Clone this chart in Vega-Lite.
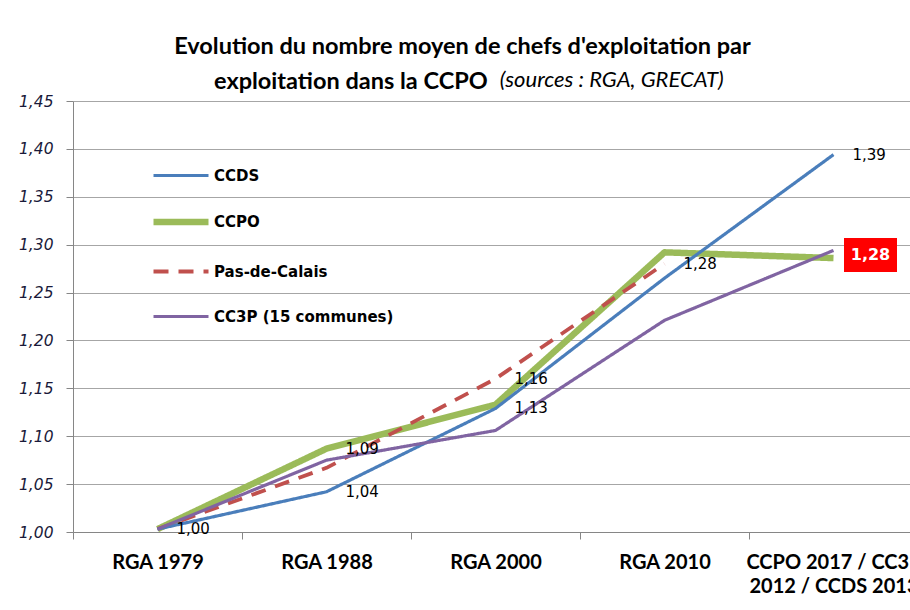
{
  "$schema": "https://vega.github.io/schema/vega-lite/v6.json",
  "width": 845,
  "height": 431,
  "autosize": "none",
  "padding": {"left": 73, "top": 101, "right": -8, "bottom": 78},
  "background": "white",
  "config": {
    "view": {"stroke": null},
    "axis": {"domainColor": "#868686", "tickColor": "#868686", "tickSize": 7, "title": null}
  },
  "title": {
    "text": ["Evolution du nombre moyen de chefs d'exploitation par", "exploitation dans la CCPO\u2003\u2003\u2003\u2003\u2003\u2003\u2003\u2003\u2003\u2003\u2003\u2003\u2002\u200b"],
    "subtitle": "\u200b\u2003\u2003\u2003\u2003\u2003\u2003\u2003\u2003\u2003\u2003\u2003\u2003\u2003\u2003\u2003\u2003\u2003\u2003\u2003\u2002(sources : RGA, GRECAT)",
    "font": "Lato",
    "fontSize": 23.5,
    "fontWeight": "bold",
    "color": "black",
    "subtitleFont": "Lato",
    "subtitleFontSize": 22,
    "subtitleFontStyle": "italic",
    "subtitleFontWeight": "normal",
    "subtitleColor": "black",
    "anchor": "middle",
    "dx": -33,
    "offset": 1,
    "lineHeight": 35,
    "subtitlePadding": -23
  },
  "datasets": {
    "lines": [
      {"series": "CCPO", "period": "RGA 1979", "value": 1.003},
      {"series": "CCPO", "period": "RGA 1988", "value": 1.087},
      {"series": "CCPO", "period": "RGA 2000", "value": 1.133},
      {"series": "CCPO", "period": "RGA 2010", "value": 1.292},
      {"series": "CCPO", "period": "CCPO 2017 / CC3P 2012 / CCDS 2013", "value": 1.286},
      {"series": "Pas-de-Calais", "period": "RGA 1979", "value": 1.003},
      {"series": "Pas-de-Calais", "period": "RGA 1988", "value": 1.067},
      {"series": "Pas-de-Calais", "period": "RGA 2000", "value": 1.16},
      {"series": "Pas-de-Calais", "period": "RGA 2010", "value": 1.28},
      {"series": "CCDS", "period": "RGA 1979", "value": 1.003},
      {"series": "CCDS", "period": "RGA 1988", "value": 1.042},
      {"series": "CCDS", "period": "RGA 2000", "value": 1.129},
      {"series": "CCDS", "period": "RGA 2010", "value": 1.265},
      {"series": "CCDS", "period": "CCPO 2017 / CC3P 2012 / CCDS 2013", "value": 1.394},
      {"series": "CC3P (15 communes)", "period": "RGA 1979", "value": 1.003},
      {"series": "CC3P (15 communes)", "period": "RGA 1988", "value": 1.075},
      {"series": "CC3P (15 communes)", "period": "RGA 2000", "value": 1.106},
      {"series": "CC3P (15 communes)", "period": "RGA 2010", "value": 1.221},
      {"series": "CC3P (15 communes)", "period": "CCPO 2017 / CC3P 2012 / CCDS 2013", "value": 1.294}
    ],
    "labels": [
      {"series": "CCDS", "period": "RGA 1979", "value": 1.003, "label": "1,00"},
      {"series": "CCDS", "period": "RGA 1988", "value": 1.042, "label": "1,04"},
      {"series": "CCPO", "period": "RGA 1988", "value": 1.087, "label": "1,09"},
      {"series": "Pas-de-Calais", "period": "RGA 2000", "value": 1.16, "label": "1,16"},
      {"series": "CCDS", "period": "RGA 2000", "value": 1.129, "label": "1,13"},
      {"series": "Pas-de-Calais", "period": "RGA 2010", "value": 1.28, "label": "1,28"},
      {"series": "CCDS", "period": "CCPO 2017 / CC3P 2012 / CCDS 2013", "value": 1.394, "label": "1,39"}
    ],
    "highlight": [
      {"series": "CCPO", "period": "CCPO 2017 / CC3P 2012 / CCDS 2013", "value": 1.286, "label": "1,28"}
    ]
  },
  "layer": [
    {
      "data": {"name": "lines"},
      "mark": {"type": "line", "strokeCap": "butt", "strokeJoin": "round"},
      "encoding": {
        "x": {
          "field": "period", "type": "nominal", "bandPosition": 0.5, "sort": null,
          "scale": {"type": "band", "paddingInner": 0, "paddingOuter": 0,
            "domain": ["RGA 1979", "RGA 1988", "RGA 2000", "RGA 2010", "CCPO 2017 / CC3P 2012 / CCDS 2013"]},
          "axis": {
            "tickBand": "extent",
            "labelAngle": 0,
            "labelFont": "Lato",
            "labelFontSize": 20,
            "labelFontWeight": "bold",
            "labelColor": "black",
            "labelPadding": 13,
            "labelLineHeight": 24,
            "labelOverlap": false,
            "labelLimit": 0,
            "labelExpr": "datum.label == 'CCPO 2017 / CC3P 2012 / CCDS 2013' ? ['CCPO 2017 / CC3P', '2012 / CCDS 2013'] : datum.label"
          }
        },
        "y": {
          "field": "value", "type": "quantitative",
          "scale": {"domain": [1, 1.45], "nice": false, "zero": false},
          "axis": {
            "values": [1, 1.05, 1.1, 1.15, 1.2, 1.25, 1.3, 1.35, 1.4, 1.45],
            "labelExpr": "replace(format(datum.value, '.2f'), '.', ',')",
            "labelFont": "DejaVu Sans",
            "labelFontStyle": "italic",
            "labelFontSize": 15.5,
            "labelColor": "#1a1a3a",
            "labelPadding": 13,
            "grid": true,
            "gridColor": "#a6a6a6",
            "gridWidth": 1
          }
        },
        "color": {
          "field": "series", "type": "nominal",
          "scale": {"domain": ["CCDS", "CCPO", "Pas-de-Calais", "CC3P (15 communes)"],
            "range": ["#4a7ebb", "#9bbb59", "#c0504d", "#8064a2"]},
          "legend": {
            "orient": "none", "legendX": 77, "legendY": 45, "title": null,
            "symbolType": "stroke", "symbolSize": 3025,
            "labelFont": "DejaVu Sans", "labelFontSize": 15, "labelFontWeight": "bold",
            "labelColor": "black", "rowPadding": 7, "labelOffset": 2, "padding": 0, "labelLimit": 0
          }
        },
        "strokeWidth": {
          "field": "series", "type": "nominal",
          "scale": {"type": "ordinal", "domain": ["CCDS", "CCPO", "Pas-de-Calais", "CC3P (15 communes)"],
            "range": [3.2, 6.5, 3.8, 3.2]},
          "legend": null
        },
        "strokeDash": {
          "field": "series", "type": "nominal",
          "scale": {"domain": ["CCDS", "CCPO", "Pas-de-Calais", "CC3P (15 communes)"],
            "range": [[1, 0], [1, 0], [15, 10], [1, 0]]},
          "legend": null
        }
      }
    },
    {
      "data": {"name": "labels"},
      "mark": {"type": "text", "align": "left", "baseline": "middle", "dx": 19, "font": "DejaVu Sans", "fontSize": 15, "color": "black"},
      "encoding": {
        "x": {"field": "period", "type": "nominal", "bandPosition": 0.5, "sort": null},
        "y": {"field": "value", "type": "quantitative"},
        "text": {"field": "label"}
      }
    },
    {
      "data": {"name": "highlight"},
      "mark": {"type": "point", "shape": "M-1,-0.64L1,-0.64L1,0.64L-1,0.64Z", "filled": true, "color": "#ff0000", "opacity": 1, "size": 2809, "strokeWidth": 0, "xOffset": 37, "yOffset": -3},
      "encoding": {
        "x": {"field": "period", "type": "nominal", "bandPosition": 0.5, "sort": null},
        "y": {"field": "value", "type": "quantitative"}
      }
    },
    {
      "data": {"name": "highlight"},
      "mark": {"type": "text", "align": "center", "baseline": "middle", "dx": 37, "dy": -3, "font": "DejaVu Sans", "fontSize": 16, "fontWeight": "bold", "color": "white"},
      "encoding": {
        "x": {"field": "period", "type": "nominal", "bandPosition": 0.5, "sort": null},
        "y": {"field": "value", "type": "quantitative"},
        "text": {"field": "label"}
      }
    }
  ]
}
